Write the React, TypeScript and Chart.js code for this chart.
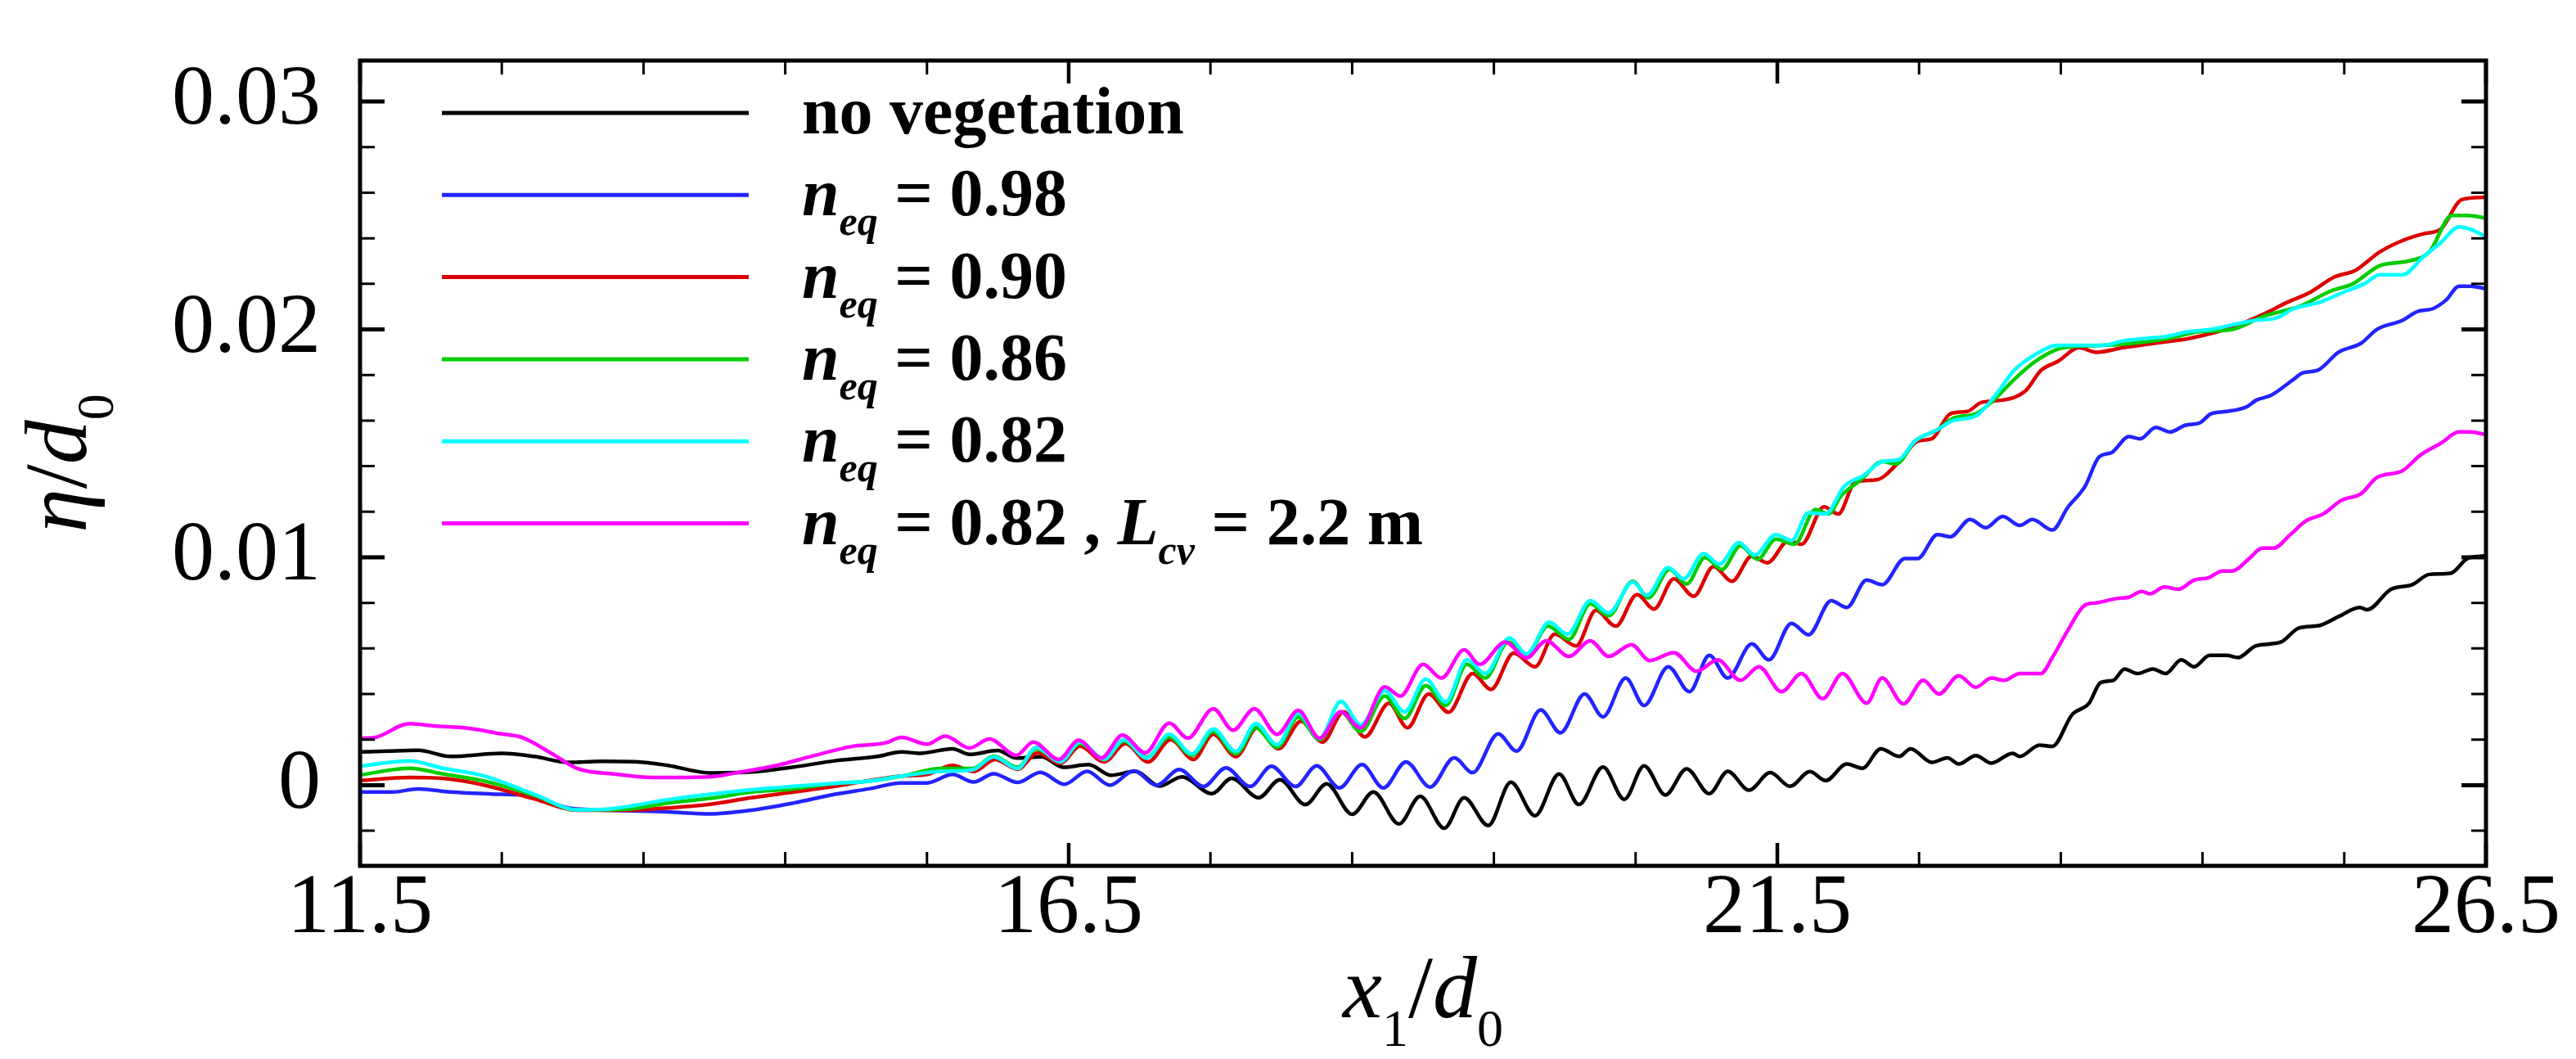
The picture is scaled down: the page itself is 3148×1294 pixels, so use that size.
import React, { useEffect, useRef } from 'react';
import { Chart, registerables } from 'chart.js';

Chart.register(...registerables);

const FONT = '"Liberation Serif", "Times New Roman", serif';

// ---------- axes ----------
const xRange = [11.5, 26.5];
const yRange = [-0.00354, 0.0318];
const xMajorTicks = [11.5, 16.5, 21.5, 26.5];
const xTickLabels = ['11.5', '16.5', '21.5', '26.5'];
const xMinorTicks = [12.5, 13.5, 14.5, 15.5, 17.5, 18.5, 19.5, 20.5, 22.5, 23.5, 24.5, 25.5];
const yMajorTicks = [0, 0.01, 0.02, 0.03];
const yTickLabels = ['0', '0.01', '0.02', '0.03'];
const yMinorTicks = [-0.002, 0.002, 0.004, 0.006, 0.008, 0.012, 0.014, 0.016, 0.018, 0.022, 0.024, 0.026, 0.028];

// ---------- series (x1/d0, eta/d0) ----------
const noVegetation: [number, number][] = [
  [11.5, 0.00146], [11.7, 0.0015], [11.91, 0.00153], [12.14, 0.00126], [12.5, 0.0014], [12.73, 0.00126],
  [12.97, 0.001], [13.2, 0.00105], [13.44, 0.00103], [13.67, 0.00087], [13.97, 0.00054], [14.26, 0.00058],
  [14.56, 0.0008], [14.85, 0.00107], [15.15, 0.00126], [15.32, 0.00146], [15.45, 0.0014], [15.68, 0.0016],
  [15.8, 0.00135], [16.0, 0.00152], [16.13, 0.00119], [16.31, 0.00125], [16.46, 0.00079], [16.64, 0.0009],
  [16.8, 0.00044], [16.97, 0.00061], [17.14, -0.00004], [17.3, 0.00037], [17.51, -0.00037], [17.65, 0.0003],
  [17.84, -0.00055], [17.99, 0.00024], [18.17, -0.00085], [18.32, 0.00006], [18.5, -0.00128], [18.65, -0.0003],
  [18.83, -0.0017], [18.98, -0.00049], [19.15, -0.00189], [19.29, -0.00055], [19.46, -0.00177], [19.62, 0.00013],
  [19.79, -0.00134], [19.96, 0.00049], [20.1, -0.00085], [20.27, 0.0008], [20.42, -0.00062], [20.56, 0.00085],
  [20.71, -0.00043], [20.86, 0.00072], [21.02, -0.00037], [21.15, 0.00061], [21.3, -0.00022], [21.45, 0.00055],
  [21.59, -0.00005], [21.73, 0.0006], [21.84, 0.0002], [21.99, 0.00093], [22.1, 0.00074], [22.23, 0.0016],
  [22.36, 0.00126], [22.44, 0.0016], [22.59, 0.001], [22.7, 0.0012], [22.78, 0.00093], [22.9, 0.0013],
  [23.01, 0.00097], [23.16, 0.0014], [23.21, 0.00126], [23.35, 0.00176], [23.44, 0.0017], [23.58, 0.0031],
  [23.7, 0.0036], [23.78, 0.0045], [23.87, 0.0046], [23.95, 0.0051], [24.04, 0.0049], [24.15, 0.0051],
  [24.24, 0.0049], [24.35, 0.0055], [24.44, 0.0052], [24.55, 0.0057], [24.67, 0.0057], [24.75, 0.0056],
  [24.87, 0.0061], [24.98, 0.0062], [25.06, 0.0063], [25.18, 0.0069], [25.32, 0.007], [25.46, 0.0074],
  [25.61, 0.0078], [25.66, 0.0077], [25.83, 0.0086], [25.98, 0.0088], [26.1, 0.00925], [26.25, 0.0093],
  [26.37, 0.00995], [26.49, 0.01006],
];

const neq098: [number, number][] = [
  [11.5, -0.0003], [11.73, -0.0003], [11.91, -0.00016], [12.14, -0.0003], [12.5, -0.0004], [12.67, -0.00045],
  [12.97, -0.001], [13.26, -0.0011], [13.67, -0.00117], [13.97, -0.00126], [14.26, -0.0011], [14.56, -0.00078],
  [14.85, -0.0004], [15.09, -0.00016], [15.32, 0.0001], [15.5, 0.0001], [15.68, 0.00047], [15.83, 0.00014],
  [15.97, 0.0005], [16.14, 0.00012], [16.3, 0.00056], [16.47, 0.00004], [16.63, 0.00061], [16.79, 0.0],
  [16.96, 0.00063], [17.12, 0.0], [17.28, 0.00069], [17.45, -0.00006], [17.61, 0.00076], [17.78, -0.00006],
  [17.93, 0.00083], [18.1, -0.00006], [18.25, 0.00085], [18.41, -0.00012], [18.57, 0.0009], [18.72, -0.00012],
  [18.88, 0.00102], [19.05, -0.00008], [19.22, 0.0012], [19.35, 0.00055], [19.53, 0.00225], [19.66, 0.0015],
  [19.83, 0.0033], [19.97, 0.0023], [20.14, 0.004], [20.27, 0.003], [20.43, 0.0047], [20.56, 0.0035],
  [20.73, 0.0052], [20.88, 0.0041], [21.02, 0.0057], [21.15, 0.0047], [21.32, 0.0062], [21.44, 0.0055],
  [21.6, 0.0071], [21.72, 0.0066], [21.88, 0.0081], [21.99, 0.0078], [22.13, 0.009], [22.24, 0.0088],
  [22.4, 0.00995], [22.49, 0.00995], [22.63, 0.011], [22.72, 0.0109], [22.86, 0.01166], [22.97, 0.0113],
  [23.09, 0.0118], [23.21, 0.0114], [23.3, 0.01166], [23.44, 0.0112], [23.55, 0.0122], [23.67, 0.0131],
  [23.77, 0.0144], [23.86, 0.0146], [23.98, 0.0153], [24.06, 0.0152], [24.17, 0.0157], [24.27, 0.0155],
  [24.38, 0.0158], [24.48, 0.0159], [24.56, 0.0163], [24.67, 0.0164], [24.81, 0.0166], [24.88, 0.0169],
  [24.98, 0.0171], [25.14, 0.0178], [25.21, 0.0181], [25.31, 0.0182], [25.46, 0.019], [25.62, 0.0194],
  [25.73, 0.02], [25.91, 0.0204], [26.02, 0.0208], [26.12, 0.0209], [26.22, 0.0213], [26.31, 0.0219],
  [26.39, 0.0219], [26.49, 0.0218],
];

const neq090: [number, number][] = [
  [11.5, 0.0002], [11.85, 0.00034], [12.08, 0.0003], [12.38, 0.0], [12.73, -0.0006], [13.03, -0.0011],
  [13.38, -0.0011], [13.67, -0.001], [13.97, -0.00084], [14.26, -0.00055], [14.56, -0.0003], [14.85, -0.00005],
  [15.09, 0.0002], [15.32, 0.0004], [15.5, 0.00047], [15.68, 0.00087], [15.83, 0.0006], [15.98, 0.00113],
  [16.14, 0.0007], [16.28, 0.00142], [16.44, 0.00096], [16.58, 0.00171], [16.75, 0.00102], [16.9, 0.00183],
  [17.06, 0.00102], [17.22, 0.002], [17.38, 0.00113], [17.52, 0.00223], [17.68, 0.00125], [17.83, 0.00252],
  [17.98, 0.0016], [18.14, 0.00281], [18.29, 0.00189], [18.44, 0.00322], [18.59, 0.00212], [18.76, 0.0036],
  [18.89, 0.00252], [19.04, 0.004], [19.18, 0.0032], [19.35, 0.0049], [19.48, 0.0042], [19.64, 0.0058],
  [19.79, 0.0052], [19.93, 0.00663], [20.08, 0.00611], [20.22, 0.00767], [20.36, 0.00698], [20.51, 0.00837],
  [20.63, 0.00773], [20.77, 0.00906], [20.91, 0.00829], [21.05, 0.0096], [21.18, 0.00895], [21.32, 0.01005],
  [21.43, 0.00976], [21.58, 0.01074], [21.67, 0.01057], [21.83, 0.01222], [21.93, 0.0119], [22.05, 0.0133],
  [22.2, 0.0134], [22.36, 0.0142], [22.49, 0.0151], [22.59, 0.0152], [22.72, 0.0163], [22.84, 0.0164],
  [22.94, 0.0168], [23.09, 0.0169], [23.25, 0.0173], [23.36, 0.0182], [23.48, 0.0186], [23.63, 0.0192],
  [23.75, 0.019], [23.94, 0.0192], [24.17, 0.0194], [24.4, 0.0196], [24.71, 0.0201], [24.94, 0.0207],
  [25.1, 0.0212], [25.25, 0.0216], [25.43, 0.0223], [25.58, 0.0226], [25.75, 0.0234], [25.91, 0.0239],
  [26.06, 0.0242], [26.18, 0.0244], [26.33, 0.0257], [26.49, 0.0258],
];

const neq086: [number, number][] = [
  [11.5, 0.00045], [11.85, 0.00074], [12.08, 0.0005], [12.38, 0.00018], [12.73, -0.00045], [13.03, -0.00108],
  [13.38, -0.00105], [13.67, -0.00078], [13.97, -0.00058], [14.26, -0.0003], [14.56, -0.00016], [14.85, 0.00008],
  [15.09, 0.00018], [15.32, 0.0004], [15.6, 0.00073], [15.82, 0.00073], [15.97, 0.00127], [16.14, 0.00079],
  [16.27, 0.0016], [16.44, 0.00108], [16.58, 0.00183], [16.75, 0.00116], [16.89, 0.00194], [17.05, 0.00123],
  [17.21, 0.00212], [17.37, 0.00131], [17.52, 0.00235], [17.68, 0.00137], [17.82, 0.00252], [17.97, 0.00166],
  [18.12, 0.00299], [18.27, 0.002], [18.42, 0.00322], [18.56, 0.00235], [18.73, 0.00391], [18.87, 0.00293],
  [19.02, 0.00437], [19.16, 0.0035], [19.31, 0.0053], [19.44, 0.0047], [19.6, 0.00628], [19.73, 0.00565],
  [19.88, 0.00698], [20.03, 0.0064], [20.18, 0.00796], [20.31, 0.00744], [20.48, 0.00895], [20.59, 0.00822],
  [20.74, 0.00947], [20.86, 0.00883], [20.99, 0.00999], [21.11, 0.00947], [21.24, 0.01051], [21.36, 0.00991],
  [21.49, 0.0108], [21.62, 0.01057], [21.77, 0.0121], [21.86, 0.0119], [21.95, 0.0127], [22.09, 0.0134],
  [22.24, 0.0142], [22.34, 0.0141], [22.47, 0.0151], [22.63, 0.0156], [22.74, 0.0161], [22.9, 0.0163],
  [23.01, 0.0168], [23.17, 0.0178], [23.32, 0.0186], [23.52, 0.0192], [23.79, 0.0193], [24.02, 0.0194],
  [24.25, 0.0196], [24.48, 0.0199], [24.71, 0.02], [24.94, 0.0206], [25.18, 0.021], [25.41, 0.0217],
  [25.56, 0.022], [25.75, 0.0228], [25.95, 0.023], [26.1, 0.0234], [26.26, 0.025], [26.37, 0.025],
  [26.49, 0.0249],
];

const neq082: [number, number][] = [
  [11.5, 0.00084], [11.85, 0.00107], [12.08, 0.00075], [12.38, 0.0004], [12.73, -0.0004], [13.03, -0.00108],
  [13.26, -0.00104], [13.67, -0.00064], [13.97, -0.0004], [14.26, -0.0002], [14.56, -0.00005], [14.85, 0.00008],
  [15.09, 0.00018], [15.32, 0.0004], [15.6, 0.00061], [15.82, 0.00067], [15.97, 0.00125], [16.14, 0.00073],
  [16.27, 0.00166], [16.44, 0.00102], [16.58, 0.00189], [16.75, 0.00113], [16.89, 0.002], [17.05, 0.00119],
  [17.21, 0.00223], [17.37, 0.00137], [17.52, 0.00247], [17.68, 0.00148], [17.82, 0.0027], [17.97, 0.00177],
  [18.12, 0.00316], [18.27, 0.00206], [18.42, 0.00368], [18.56, 0.00264], [18.73, 0.00414], [18.87, 0.00322],
  [19.02, 0.00466], [19.16, 0.00365], [19.31, 0.0055], [19.44, 0.0049], [19.61, 0.00646], [19.73, 0.00576],
  [19.89, 0.00715], [20.02, 0.00663], [20.18, 0.0081], [20.31, 0.00756], [20.48, 0.00891], [20.58, 0.00833],
  [20.73, 0.00955], [20.84, 0.00906], [20.98, 0.01016], [21.09, 0.0097], [21.23, 0.01065], [21.34, 0.0101],
  [21.49, 0.011], [21.6, 0.01074], [21.72, 0.01196], [21.84, 0.0119], [21.97, 0.0131], [22.11, 0.0136],
  [22.24, 0.0142], [22.36, 0.0143], [22.47, 0.0151], [22.63, 0.0156], [22.74, 0.016], [22.9, 0.0162],
  [23.05, 0.0172], [23.17, 0.0182], [23.32, 0.0189], [23.48, 0.0193], [23.63, 0.0193], [23.79, 0.0193],
  [23.94, 0.0195], [24.09, 0.0196], [24.25, 0.0197], [24.4, 0.0199], [24.56, 0.02], [24.71, 0.0202],
  [24.87, 0.0204], [25.02, 0.0205], [25.14, 0.0209], [25.33, 0.0212], [25.52, 0.0217], [25.64, 0.022],
  [25.75, 0.0224], [25.91, 0.0224], [26.06, 0.0232], [26.18, 0.0238], [26.31, 0.0245], [26.39, 0.0244],
  [26.49, 0.0241],
];

const neq082Lcv22: [number, number][] = [
  [11.5, 0.00205], [11.61, 0.0021], [11.85, 0.0027], [12.02, 0.0026], [12.26, 0.0025], [12.5, 0.00225],
  [12.64, 0.0021], [12.85, 0.0014], [13.03, 0.00074], [13.32, 0.00047], [13.56, 0.00034], [13.97, 0.00037],
  [14.15, 0.00054], [14.44, 0.00087], [14.68, 0.00126], [14.97, 0.0017], [15.21, 0.00186], [15.32, 0.0021],
  [15.5, 0.0018], [15.63, 0.00215], [15.8, 0.00163], [15.94, 0.00203], [16.13, 0.00131], [16.25, 0.00189],
  [16.43, 0.00113], [16.57, 0.00197], [16.73, 0.00119], [16.88, 0.0022], [17.04, 0.00142], [17.21, 0.00273],
  [17.34, 0.00206], [17.52, 0.00336], [17.66, 0.00241], [17.81, 0.00336], [17.97, 0.00223], [18.12, 0.00328],
  [18.27, 0.00206], [18.42, 0.00322], [18.56, 0.00252], [18.73, 0.00432], [18.84, 0.00391], [19.0, 0.0053],
  [19.13, 0.0047], [19.29, 0.00594], [19.4, 0.0053], [19.58, 0.00628], [19.73, 0.00559], [19.87, 0.00634],
  [20.03, 0.00565], [20.18, 0.00634], [20.31, 0.00565], [20.47, 0.00617], [20.6, 0.00547], [20.77, 0.00582],
  [20.93, 0.005], [21.08, 0.0055], [21.24, 0.0046], [21.37, 0.0052], [21.53, 0.0041], [21.67, 0.0049],
  [21.82, 0.0038], [21.96, 0.0049], [22.13, 0.0036], [22.24, 0.0047], [22.39, 0.00357], [22.53, 0.0046],
  [22.64, 0.004], [22.78, 0.0048], [22.9, 0.0043], [23.01, 0.0047], [23.1, 0.0046], [23.21, 0.0049],
  [23.36, 0.0049], [23.44, 0.0056], [23.55, 0.0068], [23.67, 0.0079], [23.75, 0.008], [23.9, 0.0082],
  [23.98, 0.00825], [24.07, 0.0085], [24.13, 0.0084], [24.23, 0.0087], [24.33, 0.0086], [24.44, 0.009],
  [24.54, 0.0091], [24.64, 0.0094], [24.71, 0.0094], [24.83, 0.00995], [24.92, 0.0104], [25.0, 0.0104],
  [25.12, 0.011], [25.23, 0.0116], [25.35, 0.0119], [25.48, 0.0125], [25.62, 0.0128], [25.73, 0.0135],
  [25.91, 0.0138], [26.04, 0.0145], [26.18, 0.015], [26.31, 0.0155], [26.39, 0.0155], [26.49, 0.0154],
];

const seriesData = [noVegetation, neq098, neq090, neq086, neq082, neq082Lcv22];
const seriesNames = ['no vegetation', 'n_eq = 0.98', 'n_eq = 0.90', 'n_eq = 0.86', 'n_eq = 0.82', 'n_eq = 0.82 , L_cv = 2.2 m'];
const seriesColors = ['#000000', '#2323ff', '#dc0000', '#00cc00', '#00ffff', '#ff00ff'];
const seriesOrder = [5, 4, 3, 2, 1, 0];

type Seg = { t: string; i?: boolean; sub?: boolean };
const legendLabels: Seg[][] = [
  [{ t: 'no vegetation' }],
  [{ t: 'n', i: true }, { t: 'eq', i: true, sub: true }, { t: ' = 0.98' }],
  [{ t: 'n', i: true }, { t: 'eq', i: true, sub: true }, { t: ' = 0.90' }],
  [{ t: 'n', i: true }, { t: 'eq', i: true, sub: true }, { t: ' = 0.86' }],
  [{ t: 'n', i: true }, { t: 'eq', i: true, sub: true }, { t: ' = 0.82' }],
  [{ t: 'n', i: true }, { t: 'eq', i: true, sub: true }, { t: ' = 0.82 , ' }, { t: 'L', i: true }, { t: 'cv', i: true, sub: true }, { t: ' = 2.2 m' }],
];
const xTitle: Seg[] = [{ t: 'x', i: true }, { t: '1', sub: true }, { t: '/' }, { t: 'd', i: true }, { t: '0', sub: true }];
const yTitle: Seg[] = [{ t: 'η', i: true }, { t: '/' }, { t: 'd', i: true }, { t: '0', sub: true }];

function drawRich(ctx: CanvasRenderingContext2D, segs: Seg[], x0: number, base: number, size: number, subSize: number, subDrop: number, bold: boolean, center: boolean) {
  const fontOf = (s: Seg) => `${s.i ? 'italic ' : ''}${bold ? 'bold ' : ''}${s.sub ? subSize : size}px ${FONT}`;
  let total = 0;
  for (const s of segs) { ctx.font = fontOf(s); total += ctx.measureText(s.t).width; }
  let x = center ? x0 - total / 2 : x0;
  ctx.textAlign = 'left';
  ctx.textBaseline = 'alphabetic';
  for (const s of segs) {
    ctx.font = fontOf(s);
    ctx.fillText(s.t, x, base + (s.sub ? subDrop : 0));
    x += ctx.measureText(s.t).width;
  }
}

const framePlugin = {
  id: 'frameTicks',
  afterDatasetsDraw(chart: any) {
    const { ctx, chartArea: a, scales } = chart;
    const sx = scales.x, sy = scales.y;
    ctx.save();
    ctx.strokeStyle = '#000';
    ctx.lineCap = 'butt';
    const vTick = (v: number, len: number, w: number) => {
      const px = sx.getPixelForValue(v);
      ctx.lineWidth = w;
      ctx.beginPath();
      ctx.moveTo(px, a.bottom); ctx.lineTo(px, a.bottom - len);
      ctx.moveTo(px, a.top); ctx.lineTo(px, a.top + len);
      ctx.stroke();
    };
    const hTick = (v: number, len: number, w: number) => {
      const py = sy.getPixelForValue(v);
      ctx.lineWidth = w;
      ctx.beginPath();
      ctx.moveTo(a.left, py); ctx.lineTo(a.left + len, py);
      ctx.moveTo(a.right, py); ctx.lineTo(a.right - len, py);
      ctx.stroke();
    };
    xMajorTicks.forEach(v => vTick(v, 28, 4.5));
    xMinorTicks.forEach(v => vTick(v, 17, 3));
    yMajorTicks.forEach(v => hTick(v, 30, 5));
    yMinorTicks.forEach(v => hTick(v, 18, 3));
    ctx.lineWidth = 5;
    ctx.strokeRect(a.left, a.top, a.right - a.left, a.bottom - a.top);
    ctx.restore();
  },
  afterDraw(chart: any) {
    const { ctx, chartArea: a } = chart;
    ctx.save();
    ctx.fillStyle = '#000';
    // legend
    legendLabels.forEach((segs, i) => {
      const yLine = 138 + i * 100.3;
      ctx.strokeStyle = seriesColors[i];
      ctx.lineWidth = 5;
      ctx.beginPath();
      ctx.moveTo(a.left + 100, yLine);
      ctx.lineTo(a.left + 475, yLine);
      ctx.stroke();
      ctx.fillStyle = '#000';
      drawRich(ctx, segs, a.left + 540, yLine + 25, 82, 50, 24, true, false);
    });
    // x title
    drawRich(ctx, xTitle, (a.left + a.right) / 2, 1243, 108, 64, 35, false, true);
    // y title
    ctx.save();
    ctx.translate(105, (a.top + a.bottom) / 2);
    ctx.rotate(-Math.PI / 2);
    drawRich(ctx, yTitle, 0, 0, 108, 64, 33, false, true);
    ctx.restore();
    ctx.restore();
  },
};

export default function App() {
  const ref = useRef<HTMLCanvasElement>(null);
  useEffect(() => {
    document.body.style.margin = '0';
    const canvas = ref.current;
    if (!canvas) return;
    const datasets = seriesData.map((d, i) => ({
      label: seriesNames[i],
      data: d.map(([x, y]) => ({ x, y })),
      borderColor: seriesColors[i],
      backgroundColor: seriesColors[i],
      borderWidth: 4.5,
      pointRadius: 0,
      fill: false,
      cubicInterpolationMode: 'monotone' as const,
      order: seriesOrder[i],
    }));
    const chart = new Chart(canvas, {
      type: 'line',
      data: { datasets },
      options: {
        responsive: false,
        animation: false,
        devicePixelRatio: 1,
        layout: { padding: { left: 0, right: 110, top: 40, bottom: 0 } },
        plugins: { legend: { display: false }, tooltip: { enabled: false } },
        scales: {
          x: {
            type: 'linear',
            min: xRange[0],
            max: xRange[1],
            afterBuildTicks: (s: any) => { s.ticks = xMajorTicks.map(v => ({ value: v })); },
            afterFit: (s: any) => { s.height = 236; },
            grid: { display: false, drawTicks: false },
            border: { display: false },
            ticks: {
              autoSkip: false,
              maxRotation: 0,
              padding: 2,
              color: '#000',
              font: { family: FONT, size: 104, lineHeight: 1.0 },
              callback: (v: any) => xTickLabels[xMajorTicks.indexOf(Number(v))] ?? '',
            },
          },
          y: {
            type: 'linear',
            min: yRange[0],
            max: yRange[1],
            afterBuildTicks: (s: any) => { s.ticks = yMajorTicks.map(v => ({ value: v })); },
            afterFit: (s: any) => { s.width = 440; },
            grid: { display: false, drawTicks: false },
            border: { display: false },
            ticks: {
              autoSkip: false,
              padding: 48,
              color: '#000',
              font: { family: FONT, size: 104, lineHeight: 0.5 },
              callback: (v: any) => yTickLabels[yMajorTicks.indexOf(Number(v))] ?? '',
            },
          },
        },
      },
      plugins: [framePlugin],
    } as any);
    return () => chart.destroy();
  }, []);
  return (
    <div style={{ width: 3148, height: 1294, background: '#fff' }}>
      <canvas ref={ref} width={3148} height={1294} style={{ display: 'block', width: 3148, height: 1294 }} />
    </div>
  );
}
